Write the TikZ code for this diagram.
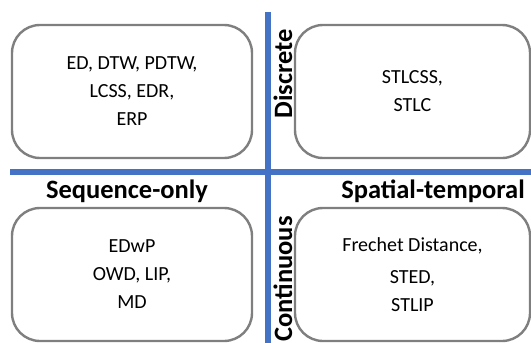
\documentclass[tikz,border=0pt]{standalone}
\usepackage{fontspec}
\setmainfont{Carlito}
\definecolor{axisblue}{HTML}{4472C4}
\definecolor{boxgray}{HTML}{7F7F7F}

\begin{document}
\begin{tikzpicture}[x=1pt,y=-1pt,
  quad/.style={draw=boxgray, line width=2.4pt, rounded corners=28pt,
    minimum height=133pt, align=center, inner sep=0pt,
    font=\fontsize{20}{28}\selectfont},
  axislabel/.style={font=\bfseries\fontsize{26.5}{28}\selectfont, inner sep=0pt},
  axis/.style={axisblue, line width=6.5pt}]
\useasboundingbox (0,0) rectangle (531,343);

% --- the two axes ---
\coordinate (vtop) at (268,12);
\coordinate (vbot) at (268,343);
\coordinate (hleft) at (10,172);
\coordinate (hright) at (531,172);
\draw[axis] (hleft) -- (hright);
\draw[axis] (vtop) -- (vbot);

% --- quadrants ---
\node[quad, minimum width=240pt] (seqdisc) at (132,91.5)
  {ED, DTW, PDTW,\\ LCSS, EDR,\\ ERP};
\node[quad, minimum width=235pt] (stdisc) at (412.5,91.5)
  {STLCSS,\\ STLC};
\node[quad, minimum width=240pt] (seqcont) at (132,274.5)
  {EDwP\\ OWD, LIP,\\ MD};
\node[quad, minimum width=235pt] (stcont) at (412.5,274.5)
  {Frechet Distance,\\[4pt] STED,\\ STLIP};

% --- axis labels ---
\node[axislabel] (seqlbl) at (127,191) {Sequence-only};
\node[axislabel] (stlbl) at (433,191) {Spatial-temporal};
\node[axislabel, rotate=90] (disclbl) at (283,74) {Discrete};
\node[axislabel, rotate=90] (contlbl) at (283,279) {Continuous};
\end{tikzpicture}
\end{document}
